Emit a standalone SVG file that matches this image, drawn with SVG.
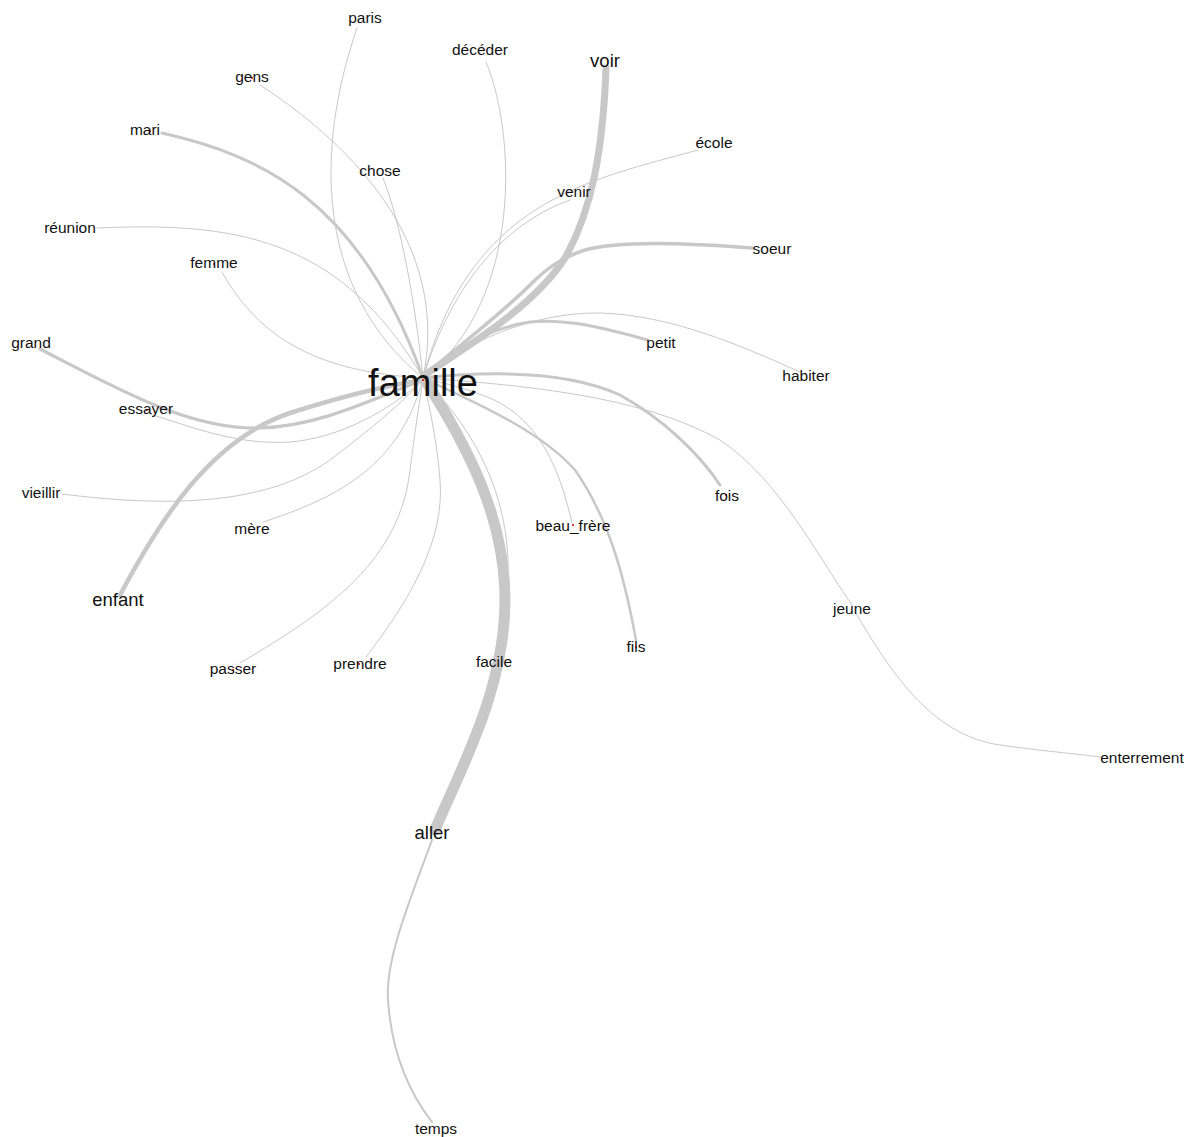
<svg xmlns="http://www.w3.org/2000/svg" width="1193" height="1137" viewBox="0 0 1193 1137">
<style>
.e{fill:none;stroke:#c8c8c8;stroke-width:1;stroke-linecap:round}
.m{stroke-width:2.5}
.t{stroke-width:3.5}
.lbl{font-family:"Liberation Sans",Arial,sans-serif;font-size:15.5px;fill:#111;text-anchor:middle}
.big{font-size:18.5px}
.hub{font-size:38px}
.dot{fill:#e00000}
</style>
<rect width="1193" height="1137" fill="#fff"/>
<g id="edges">
<path class="e" d="M357,28 C315,150 315,290 423,378"/>
<path class="e" d="M260,85 C360,150 450,250 423,378"/>
<path class="e" d="M383,178 C400,220 415,300 423,378"/>
<path class="e" style="stroke-width:3" d="M162,133 C260,155 360,200 423,378"/>
<path class="e" d="M486,62 C515,130 525,300 423,378"/>
<path class="e" d="M698,150 C590,180 470,200 423,378"/>
<path class="e" d="M570,200 C500,225 450,290 423,378"/>
<path class="e" d="M97,228 C230,222 340,235 423,378"/>
<path class="e" d="M222,272 C260,340 320,372 423,378"/>
<path class="e" style="stroke-width:3.2" d="M40,349 C120,390 190,430 260,428 C320,426 370,400 423,380"/>
<path class="e" style="stroke-width:4.5" d="M120,595 C160,520 210,440 290,413 C340,397 390,385 423,380"/>
<path class="e" d="M150,414 C200,430 240,445 290,442 C340,438 390,410 423,380"/>
<path class="e" d="M62,494 C150,505 260,510 330,460 C370,430 405,400 423,380"/>
<path class="e" d="M263,522 C330,500 400,470 423,378"/>
<path class="e" d="M240,663 C330,610 400,560 410,470 C415,430 420,400 423,378"/>
<path class="e" d="M366,657 C410,600 445,540 440,480 C437,440 428,400 423,378"/>
<path class="e" d="M423,378 C465,420 505,480 508,560 C509,600 500,640 494,658"/>
<path class="e" d="M572,523 C560,470 540,420 490,398 C465,388 440,382 423,378"/>
<path class="e" style="stroke-width:2.5" d="M423,378 C470,400 540,430 575,470 C610,520 625,580 636,640"/>
<path class="e" style="stroke-width:3" d="M423,378 C500,370 570,372 620,395 C665,420 700,455 720,485"/>
<path class="e" d="M423,378 C520,385 640,395 720,440 C780,480 820,560 852,605"/>
<path class="e" d="M855,612 C890,670 930,735 1000,745 C1050,752 1080,754 1100,757"/>
<path class="e" style="stroke-width:3" d="M648,340 C610,330 570,318 530,322 C490,328 450,350 423,378"/>
<path class="e" d="M800,372 C740,345 670,315 600,313 C530,312 460,345 423,378"/>
<path class="e" style="stroke-width:3.5" d="M752,248 C690,243 620,240 585,250 C560,258 545,270 530,285 C500,315 460,345 426,374"/>
<path class="e" style="stroke-width:7" d="M606,68 C603,150 592,210 565,258 C535,305 470,345 426,374"/>
<path class="e" style="stroke-width:11" d="M425,380 C470,450 505,520 505,600 C505,690 460,770 435,830"/>
<path class="e" style="stroke-width:2" d="M432,840 C410,900 385,960 388,1000 C392,1060 415,1100 432,1122"/>
</g>
<g id="n-paris"><text class="lbl" x="365" y="23">paris</text></g>
<g id="n-gens"><circle class="dot" cx="252" cy="78" r="1"/><text class="lbl" x="252" y="82">gens</text></g>
<g id="n-mari"><circle class="dot" cx="150" cy="131" r="1"/><text class="lbl" x="145" y="135">mari</text></g>
<g id="n-deceder"><text class="lbl" x="480" y="55">décéder</text></g>
<g id="n-voir"><text class="lbl big" x="605" y="67">voir</text></g>
<g id="n-chose"><text class="lbl" x="380" y="176">chose</text></g>
<g id="n-ecole"><text class="lbl" x="714" y="148">école</text></g>
<g id="n-venir"><text class="lbl" x="574" y="197">venir</text></g>
<g id="n-reunion"><text class="lbl" x="70" y="233">réunion</text></g>
<g id="n-soeur"><text class="lbl" x="772" y="254">soeur</text></g>
<g id="n-femme"><circle class="dot" cx="214" cy="264" r="1"/><text class="lbl" x="214" y="268">femme</text></g>
<g id="n-grand"><text class="lbl" x="31" y="348">grand</text></g>
<g id="n-petit"><text class="lbl" x="661" y="348">petit</text></g>
<g id="n-habiter"><text class="lbl" x="806" y="381">habiter</text></g>
<g id="n-famille"><text class="lbl hub" x="423" y="396">famille</text><circle class="dot" cx="423" cy="380" r="1"/></g>
<g id="n-essayer"><circle class="dot" cx="147" cy="410" r="1"/><text class="lbl" x="146" y="414">essayer</text></g>
<g id="n-fois"><circle class="dot" cx="726" cy="495" r="1"/><text class="lbl" x="727" y="501">fois</text></g>
<g id="n-vieillir"><text class="lbl" x="41" y="498">vieillir</text></g>
<g id="n-mere"><text class="lbl" x="252" y="534">mère</text></g>
<g id="n-beau_frere"><circle class="dot" cx="573" cy="525" r="1"/><text class="lbl" x="573" y="531">beau_frère</text></g>
<g id="n-enfant"><text class="lbl big" x="118" y="606">enfant</text></g>
<g id="n-jeune"><text class="lbl" x="852" y="614">jeune</text></g>
<g id="n-passer"><circle class="dot" cx="233" cy="670" r="1"/><text class="lbl" x="233" y="674">passer</text></g>
<g id="n-prendre"><circle class="dot" cx="359" cy="664" r="1"/><text class="lbl" x="360" y="669">prendre</text></g>
<g id="n-facile"><text class="lbl" x="494" y="667">facile</text></g>
<g id="n-fils"><circle class="dot" cx="636" cy="647" r="1"/><text class="lbl" x="636" y="652">fils</text></g>
<g id="n-enterrement"><text class="lbl" x="1142" y="763">enterrement</text></g>
<g id="n-aller"><text class="lbl big" x="432" y="839">aller</text></g>
<g id="n-temps"><text class="lbl" x="436" y="1134">temps</text></g>
</svg>
